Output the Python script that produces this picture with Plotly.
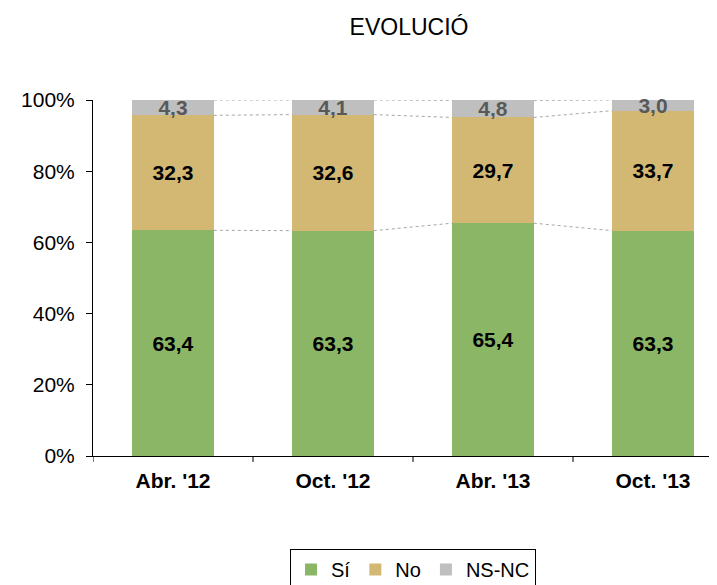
import plotly.graph_objects as go

categories = ["Abr. '12", "Oct. '12", "Abr. '13", "Oct. '13"]
si = [63.4, 63.3, 65.4, 63.3]
no = [32.3, 32.6, 29.7, 33.7]
nsnc = [4.3, 4.1, 4.8, 3.0]
y_ticks = [0, 20, 40, 60, 80, 100]
y_tick_labels = ["0%", "20%", "40%", "60%", "80%", "100%"]

series = [
    ("Sí", si, "#8BB666", "#000000"),
    ("No", no, "#D3B873", "#000000"),
    ("NS-NC", nsnc, "#BFBFBF", "#595959"),
]

FONT = "Liberation Sans, Arial, sans-serif"
BAR_W = 0.51
OFF = 8  # page body margin in the browser

fig = go.Figure()
for name, vals, color, tcol in series:
    fig.add_trace(go.Bar(
        name=name, x=list(range(len(categories))), y=vals,
        marker=dict(color=color, line=dict(width=0)),
        width=BAR_W,
        text=[f"{v:.1f}".replace(".", ",") for v in vals],
        textposition="inside", insidetextanchor="middle",
        constraintext="none", cliponaxis=False,
        textfont=dict(family=FONT, size=21, color=tcol, weight="bold"),
        hoverinfo="skip",
    ))

# series lines between bars
levels = []
cum = [0] * len(categories)
for _, vals, _, _ in series:
    cum = [c + v for c, v in zip(cum, vals)]
    levels.append(list(cum))
for lev in levels:
    for i in range(len(categories) - 1):
        fig.add_shape(type="line", xref="x", yref="y",
                      x0=i + BAR_W / 2, x1=i + 1 - BAR_W / 2,
                      y0=lev[i], y1=lev[i + 1],
                      line=dict(color="#A6A6A6", width=1, dash="dot"))

fig.update_layout(
    width=717, height=585,
    margin=dict(l=93 - OFF, r=0, t=99.5 - OFF, b=129 + OFF, autoexpand=False),
    paper_bgcolor="white", plot_bgcolor="white",
    barmode="stack",
    font=dict(family=FONT, size=21, color="#000000"),
    title=dict(text="EVOLUCIÓ", x=0.5, xref="paper", xanchor="center",
               y=1 - (27 - OFF) / 585, yref="container", yanchor="middle",
               font=dict(family=FONT, size=23, color="#000000")),
    showlegend=True,
    legend=dict(orientation="h", x=(413 - 93) / 632, xanchor="center",
                y=1 - (549 - OFF) / 585, yref="container", yanchor="top",
                bordercolor="#000000", borderwidth=1,
                font=dict(family=FONT, size=20, color="#000000"),
                itemwidth=30, traceorder="normal"),
    xaxis=dict(range=[-0.5, 3.45], tickmode="array",
               tickvals=list(range(len(categories))), ticktext=categories,
               showline=True, linecolor="#000000", linewidth=1,
               ticks="", showgrid=False, zeroline=False, automargin=False,
               ticklabelstandoff=6,
               tickfont=dict(family=FONT, size=21, color="#000000", weight="bold")),
    yaxis=dict(range=[0, 100], tickmode="array", tickvals=y_ticks, ticktext=y_tick_labels,
               showline=True, linecolor="#000000", linewidth=1,
               ticks="outside", ticklen=6, tickcolor="#000000",
               showgrid=False, zeroline=False, automargin=False,
               ticklabelstandoff=7,
               tickfont=dict(family=FONT, size=21, color="#000000")),
)

# category boundary ticks on the x axis
for i in range(len(categories)):
    fig.add_shape(type="line", xref="x", yref="paper",
                  x0=i - 0.5, x1=i - 0.5, y0=0, y1=-6 / 356.5,
                  line=dict(color="#000000", width=1))

fig.write_html("out.html")
